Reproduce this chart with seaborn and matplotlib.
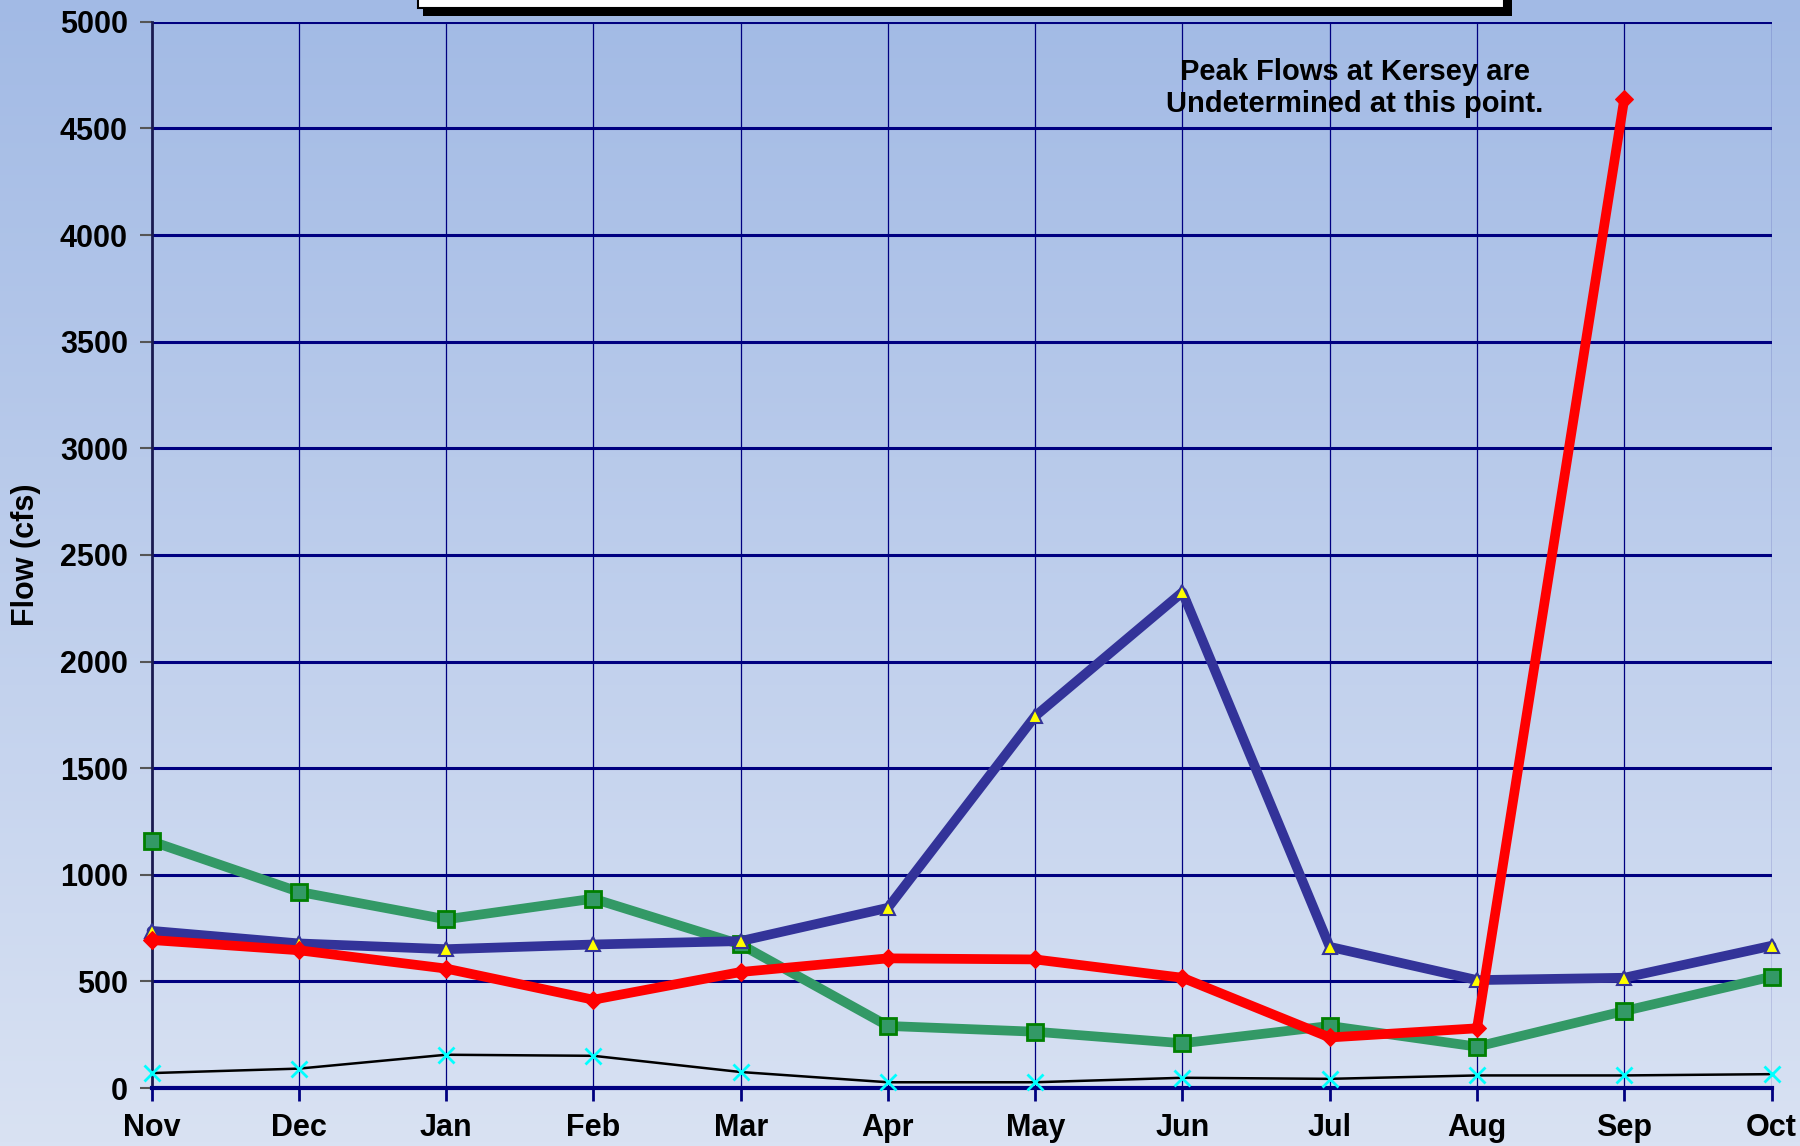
import numpy as np
import pandas as pd
import matplotlib
matplotlib.use("Agg")
import matplotlib.pyplot as plt
from matplotlib.patches import Rectangle
import seaborn as sns

# ---- data ----
months = ["Nov", "Dec", "Jan", "Feb", "Mar", "Apr", "May", "Jun", "Jul", "Aug", "Sep", "Oct"]
blue_flow = [737, 678, 651, 673, 689, 845, 1744, 2325, 662, 506, 517, 667]
red_flow = [694, 646, 560, 414, 544, 608, 603, 517, 237, 280, 4639, np.nan]
green_flow = [1157, 920, 791, 888, 673, 291, 264, 210, 291, 194, 361, 522]
black_flow = [70, 91, 156, 151, 75, 27, 27, 48, 43, 59, 59, 65]
y_ticks = list(range(0, 5001, 500))
note = "Peak Flows at Kersey are\nUndetermined at this point."

sns.set_theme(style="white")
plt.rcParams["font.family"] = ["Liberation Sans", "DejaVu Sans"]
plt.rcParams["font.weight"] = "bold"
plt.rcParams["text.color"] = "black"
plt.rcParams["xtick.labelcolor"] = "black"
plt.rcParams["ytick.labelcolor"] = "black"
plt.rcParams["axes.labelcolor"] = "black"

fig = plt.figure(figsize=(18, 11.46), dpi=100)

# gradient background over the whole figure
bg = fig.add_axes([0, 0, 1, 1], zorder=-10)
top_c = np.array([162, 186, 229]) / 255
bot_c = np.array([217, 226, 243]) / 255
t = np.linspace(0, 1, 256)[:, None]
grad = top_c[None, :] * (1 - t) + bot_c[None, :] * t
bg.imshow(grad[:, None, :].repeat(2, axis=1), aspect="auto", extent=[0, 1, 0, 1])
bg.set_axis_off()

# cut-off title box at the top
fig.patches.append(Rectangle((423 / 1800, 1 - 16 / 1146), 1089 / 1800, 16 / 1146,
                             transform=fig.transFigure, facecolor="black", edgecolor="none", zorder=1))
fig.patches.append(Rectangle((418 / 1800, 1 - 8 / 1146), 1086 / 1800, 10 / 1146,
                             transform=fig.transFigure, facecolor="white", edgecolor="black",
                             linewidth=1.5, zorder=2))

ax = fig.add_axes([0.0842, 0.0506, 0.9, 0.9304])
ax.patch.set_alpha(0)

df = pd.DataFrame({"month": months, "blue": blue_flow, "red": red_flow,
                   "green": green_flow, "black": black_flow})

sns.lineplot(data=df, x="month", y="black", ax=ax, color="black", linewidth=1.8,
             marker="x", markersize=12, markeredgecolor="#00ffff", markeredgewidth=2,
             zorder=3, clip_on=False)
sns.lineplot(data=df, x="month", y="green", ax=ax, color="#339966", linewidth=7,
             marker="s", markersize=12, markerfacecolor="#339966", markeredgecolor="#008000",
             markeredgewidth=2, zorder=4, clip_on=False)
sns.lineplot(data=df, x="month", y="blue", ax=ax, color="#333399", linewidth=7,
             marker="^", markersize=10, markerfacecolor="#ffff00", markeredgecolor="#333399",
             markeredgewidth=1.5, zorder=5, clip_on=False)
sns.lineplot(data=df, x="month", y="red", ax=ax, color="#ff0000", linewidth=7,
             marker="D", markersize=9, markerfacecolor="#ff0000", markeredgecolor="#ff0000",
             zorder=6, clip_on=False)

ax.set_xlim(0, len(months) - 1)
ax.set_ylim(0, 5000)
ax.set_yticks(y_ticks)
ax.set_xticks(range(len(months)))
ax.set_xticklabels(months)

# grid: heavy horizontal, light vertical
for y in y_ticks[1:]:
    ax.axhline(y, color="#000080", linewidth=2.2, zorder=1)
for i in range(1, len(months)):
    ax.axvline(i, color="#000080", linewidth=0.9, zorder=1)

for side in ["top", "right"]:
    ax.spines[side].set_visible(False)
ax.spines["left"].set_color("#1a1a50")
ax.spines["left"].set_linewidth(2)
ax.spines["bottom"].set_color("#000080")
ax.spines["bottom"].set_linewidth(3)

ax.tick_params(axis="y", direction="out", length=9, width=1.5, color="#555555",
               labelsize=22, pad=8, left=True)
ax.tick_params(axis="x", direction="out", length=9, width=2, color="#000080",
               labelsize=22, pad=9, bottom=True)
for lbl in ax.get_xticklabels() + ax.get_yticklabels():
    lbl.set_fontweight("bold")

ax.set_xlabel("")
ax.set_ylabel("Flow (cfs)", fontsize=22, fontweight="bold", labelpad=14)

ax.text(8.17, 4690, note, ha="center", va="center", fontsize=21,
        fontweight="bold", linespacing=1.2, zorder=7)

fig.savefig("out.png", dpi=100)
